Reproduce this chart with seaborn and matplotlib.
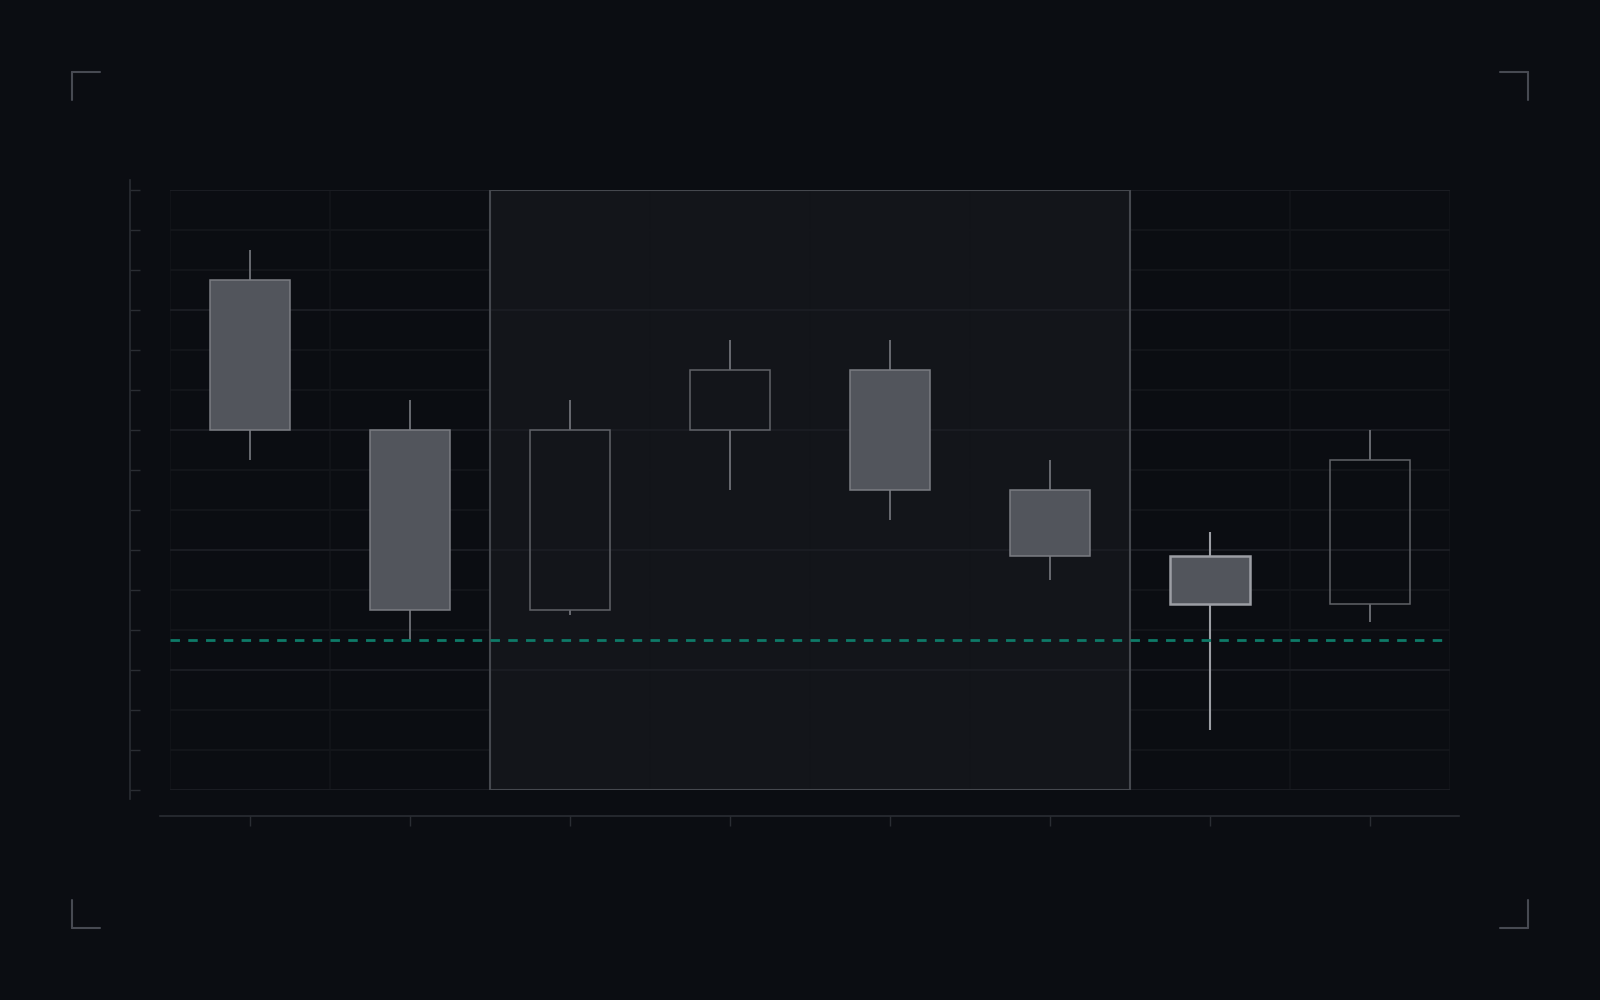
import numpy as np
import matplotlib
matplotlib.use("Agg")
import matplotlib.pyplot as plt
from matplotlib.lines import Line2D
from matplotlib.patches import Rectangle
import seaborn as sns

# candle data (price units, no labels shown in the chart)
opens = [12.75, 9.0, 4.5, 9.0, 10.5, 7.5, 5.85, 4.65]
closes = [9.0, 4.5, 9.0, 10.5, 7.5, 5.85, 4.65, 8.25]
highs = [13.5, 9.75, 9.75, 11.25, 11.25, 8.25, 6.45, 9.0]
lows = [8.25, 3.75, 4.375, 7.5, 6.75, 5.25, 1.5, 4.2]
support_level = 3.75
highlight_span = (2, 5)      # first and last candle inside the shaded box
focus_candle = 6             # the brighter candle
y_range = (0, 15)

BG = "#0b0d12"
sns.set_theme(style="dark", rc={
    "figure.facecolor": BG,
    "axes.facecolor": BG,
    "savefig.facecolor": BG,
    "axes.edgecolor": "#2a2d33",
    "grid.color": "#15171c",
})

fig = plt.figure(figsize=(16, 10), dpi=100)
ax = fig.add_axes([170 / 1600, 210 / 1000, 1280 / 1600, 600 / 1000])

n = len(opens)
x = np.arange(n)
o = np.array(opens)
c = np.array(closes)
top = np.maximum(o, c)
bot = np.minimum(o, c)
bearish = c < o

# shaded selection box: fill under the grid, outline above it
lo, hi = highlight_span
box = ((lo - 0.5, y_range[0]), hi - lo + 1, y_range[1] - y_range[0])
ax.add_patch(Rectangle(*box, facecolor=(1, 1, 1, 0.035), edgecolor="none",
                       zorder=0.4))
ax.add_patch(Rectangle(*box, facecolor="none", edgecolor="#45484e",
                       linewidth=1.5, zorder=1.5))

# wicks (upper and lower segments only, so hollow bodies stay empty)
wick_cols = ["#9c9ea4" if i == focus_candle else "#686a70" for i in range(n)]
wick_lw = [1.5 if i == focus_candle else 1.4 for i in range(n)]
ax.vlines(x, top, highs, colors=wick_cols, linewidths=wick_lw, zorder=2)
ax.vlines(x, lows, bot, colors=wick_cols, linewidths=wick_lw, zorder=2)

# bodies
faces = ["#52555c" if b else "none" for b in bearish]
edges = []
lws = []
for i, b in enumerate(bearish):
    if i == focus_candle:
        edges.append("#9c9ea4")
        lws.append(1.8)
    elif b:
        edges.append("#7b7d83")
        lws.append(1.1)
    else:
        edges.append("#606268")
        lws.append(1.1)
ax.bar(x, top - bot, bottom=bot, width=0.5, color=faces,
       edgecolor=edges, linewidth=lws, zorder=3)

# support line
ax.axhline(support_level, color="#0e7a68", linewidth=2.0,
           linestyle=(0, (3.4, 3.0)), zorder=2.5)

# limits, ticks and grid
ax.set_xlim(-0.5, n - 0.5)
ax.set_ylim(*y_range)
ax.set_xticks(x)
ax.set_xticks(np.arange(n + 1) - 0.5, minor=True)
ax.set_yticks(np.arange(y_range[0], y_range[1] + 1, 3))
ax.set_yticks(np.arange(y_range[0], y_range[1] + 1), minor=True)
ax.set_xticklabels([])
ax.set_yticklabels([])
ax.set_yticklabels([], minor=True)
ax.set_axisbelow(True)
ax.grid(False)
ax.yaxis.grid(True, which="minor", color="#14161b", linewidth=1.4)
ax.yaxis.grid(True, which="major", color="#1b1d23", linewidth=1.4)
ax.xaxis.grid(True, which="minor", color="#121419", linewidth=1.4)

ax.tick_params(axis="y", which="both", direction="in", length=7.2,
               width=1.0, color="#2a2d33", left=True)
ax.tick_params(axis="x", which="major", direction="out", length=7.2,
               width=1.0, color="#2a2d33", bottom=True)
ax.tick_params(axis="x", which="minor", length=0)

sns.despine(ax=ax, offset={"left": 28.8, "bottom": 18.7})
for side in ("left", "bottom"):
    ax.spines[side].set_color("#2a2d33")
    ax.spines[side].set_linewidth(1.2)
ax.spines["left"].set_bounds(y_range[0] - 0.225, y_range[1] + 0.25)
ax.spines["bottom"].set_bounds(-0.5625, n - 0.5 + 0.056)

# corner brackets
W, H = 1600, 1000
arm = 28
bracket_col = "#474a52"
for cx, cy, dx, dy in [(71.5, 71.5, 1, 1), (1527.5, 71.5, -1, 1),
                       (71.5, 927.5, 1, -1), (1527.5, 927.5, -1, -1)]:
    fig.add_artist(Line2D([cx / W, (cx + dx * arm) / W], [1 - cy / H, 1 - cy / H],
                          color=bracket_col, linewidth=1.5))
    fig.add_artist(Line2D([cx / W, cx / W], [1 - cy / H, 1 - (cy + dy * arm) / H],
                          color=bracket_col, linewidth=1.5))

fig.savefig("out.png", dpi=100, facecolor=BG)
